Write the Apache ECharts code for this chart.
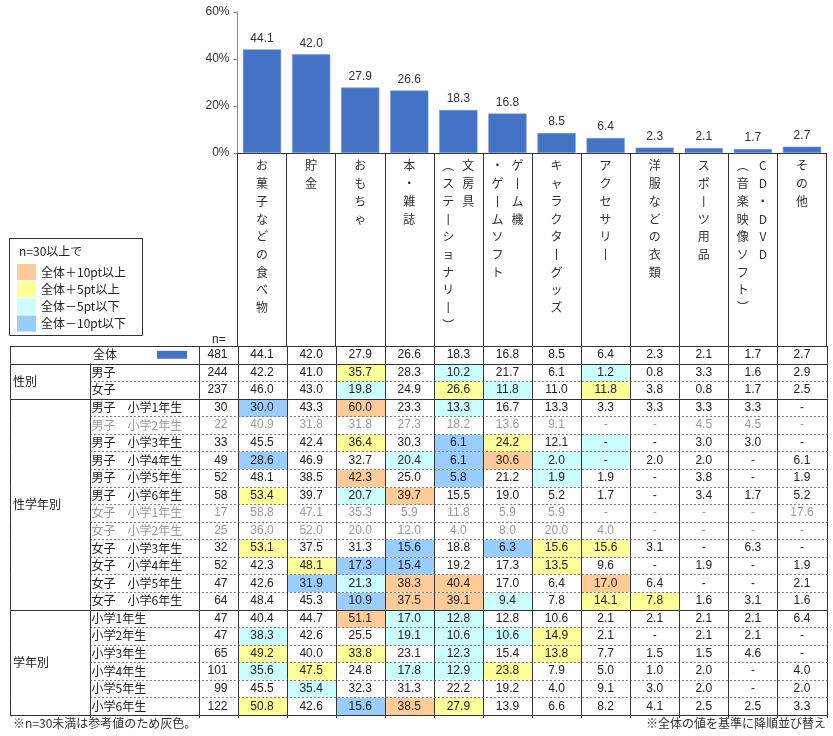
<!DOCTYPE html>
<html>
<head>
<meta charset="utf-8">
<script src="https://cdn.jsdelivr.net/npm/echarts@6.0.0/dist/echarts.min.js"></script>
<style>
  html, body { margin: 0; padding: 0; background: #fff; }
  #chart { width: 833px; height: 736px; }
</style>
</head>
<body>
<div id="chart"></div>
<script>
// 項目（\n で縦書きの2列目へ）
const categories = [
  'お菓子などの食べ物', '貯金', 'おもちゃ', '本・雑誌',
  '文房具\n（ステーショナリー）', 'ゲーム機\n・ゲームソフト',
  'キャラクターグッズ', 'アクセサリー', '洋服などの衣類', 'スポーツ用品',
  'CD・DVD\n（音楽映像ソフト）', 'その他'
]

// 全体の値（棒グラフ）
const overall = [44.1, 42.0, 27.9, 26.6, 18.3, 16.8, 8.5, 6.4, 2.3, 2.1, 1.7, 2.7]

const yTicks = [0, 20, 40, 60]

const rowLabels = [
  '全体', '男子', '女子',
  '男子　小学1年生', '男子　小学2年生', '男子　小学3年生',
  '男子　小学4年生', '男子　小学5年生', '男子　小学6年生',
  '女子　小学1年生', '女子　小学2年生', '女子　小学3年生',
  '女子　小学4年生', '女子　小学5年生', '女子　小学6年生',
  '小学1年生', '小学2年生', '小学3年生', '小学4年生', '小学5年生', '小学6年生'
]

const rowN = [481, 244, 237, 30, 22, 33, 49, 52, 58, 17, 25, 32, 52, 47, 64, 47, 47, 65, 101, 99, 122]

const groupLabels = ['性別', '性学年別', '学年別']
const groupSizes = [2, 12, 6]

// null は「-」
const tableValues = [
  overall,
  [42.2, 41.0, 35.7, 28.3, 10.2, 21.7, 6.1, 1.2, 0.8, 3.3, 1.6, 2.9],
  [46.0, 43.0, 19.8, 24.9, 26.6, 11.8, 11.0, 11.8, 3.8, 0.8, 1.7, 2.5],
  [30.0, 43.3, 60.0, 23.3, 13.3, 16.7, 13.3, 3.3, 3.3, 3.3, 3.3, null],
  [40.9, 31.8, 31.8, 27.3, 18.2, 13.6, 9.1, null, null, 4.5, 4.5, null],
  [45.5, 42.4, 36.4, 30.3, 6.1, 24.2, 12.1, null, null, 3.0, 3.0, null],
  [28.6, 46.9, 32.7, 20.4, 6.1, 30.6, 2.0, null, 2.0, 2.0, null, 6.1],
  [48.1, 38.5, 42.3, 25.0, 5.8, 21.2, 1.9, 1.9, null, 3.8, null, 1.9],
  [53.4, 39.7, 20.7, 39.7, 15.5, 19.0, 5.2, 1.7, null, 3.4, 1.7, 5.2],
  [58.8, 47.1, 35.3, 5.9, 11.8, 5.9, 5.9, null, null, null, null, 17.6],
  [36.0, 52.0, 20.0, 12.0, 4.0, 8.0, 20.0, 4.0, null, null, null, null],
  [53.1, 37.5, 31.3, 15.6, 18.8, 6.3, 15.6, 15.6, 3.1, null, 6.3, null],
  [42.3, 48.1, 17.3, 15.4, 19.2, 17.3, 13.5, 9.6, null, 1.9, null, 1.9],
  [42.6, 31.9, 21.3, 38.3, 40.4, 17.0, 6.4, 17.0, 6.4, null, null, 2.1],
  [48.4, 45.3, 10.9, 37.5, 39.1, 9.4, 7.8, 14.1, 7.8, 1.6, 3.1, 1.6],
  [40.4, 44.7, 51.1, 17.0, 12.8, 12.8, 10.6, 2.1, 2.1, 2.1, 2.1, 6.4],
  [38.3, 42.6, 25.5, 19.1, 10.6, 10.6, 14.9, 2.1, null, 2.1, 2.1, null],
  [49.2, 40.0, 33.8, 23.1, 12.3, 15.4, 13.8, 7.7, 1.5, 1.5, 4.6, null],
  [35.6, 47.5, 24.8, 17.8, 12.9, 23.8, 7.9, 5.0, 1.0, 2.0, null, 4.0],
  [45.5, 35.4, 32.3, 31.3, 22.2, 19.2, 4.0, 9.1, 3.0, 2.0, null, 2.0],
  [50.8, 42.6, 15.6, 38.5, 27.9, 13.9, 6.6, 8.2, 4.1, 2.5, 2.5, 3.3]
]

const legendLabels = ['全体＋10pt以上', '全体＋5pt以上', '全体－5pt以下', '全体－10pt以下']
const highlightColors = ['#FFCC99', '#FFFF99', '#CCFFFF', '#99CCFF']

const BAR_COLOR = '#4472C4'
const LINE = '#333333'
const DASH = '#808080'
const TEXT = '#222222'
const GRAY_TEXT = '#9a9a9a'
const FONT = '"Liberation Sans", "Noto Sans CJK JP", sans-serif'
const JP_FONT = '"Noto Sans CJK JP", sans-serif'

const TABLE_LEFT = 227.5   // grid左端から表の左端まで
const SUB_LEFT = 147.5     // grid左端から行ラベル列まで
const N_LEFT = 38.5        // grid左端から n 列まで

const verticalForm = { 'ー': '丨', '（': '︵', '）': '︶' }

// 縦書きラベル（右の列が1列目）
function toVertical(name) {
  const cols = name.split('\n').map(s => Array.from(s).map(c => verticalForm[c] || c))
  const rows = Math.max.apply(null, cols.map(c => c.length))
  const lines = []
  for (let i = 0; i < rows; i++) {
    if (cols.length === 1) {
      lines.push('{s|' + cols[0][i] + '}')
    } else {
      lines.push('{l|' + (cols[1][i] || '　') + '}{r|' + (cols[0][i] || '　') + '}')
    }
  }
  return lines.join('\n')
}

// n=30以上で全体との差により色分け
function highlightColor(r, j) {
  if (r === 0 || rowN[r] < 30) return null
  const v = tableValues[r][j] == null ? 0 : tableValues[r][j]
  const d = Math.round((v - overall[j]) * 10) / 10
  if (d >= 10) return highlightColors[0]
  if (d >= 5) return highlightColors[1]
  if (d <= -10) return highlightColors[3]
  if (d <= -5) return highlightColors[2]
  return null
}

const groupStarts = []
const groupEnds = [0]
let acc = 1
groupSizes.forEach(size => {
  groupStarts.push(acc)
  acc += size
  groupEnds.push(acc - 1)
})

function crisp(v) {
  return Math.round(v) + 0.5
}

function vline(x, y1, y2, color) {
  return { type: 'line', shape: { x1: crisp(x), y1: y1, x2: crisp(x), y2: y2 }, style: { stroke: color || LINE, lineWidth: 1 } }
}

function hline(x1, x2, y, dashed) {
  return {
    type: 'line',
    shape: { x1: x1, y1: crisp(y), x2: x2, y2: crisp(y) },
    style: { stroke: dashed ? DASH : LINE, lineWidth: 1, lineDash: dashed ? [2, 2] : null }
  }
}

function text(str, x, y, align, color, font) {
  return {
    type: 'text',
    style: {
      text: str, x: x, y: y, align: align, verticalAlign: 'middle',
      fill: color || TEXT, font: '12px ' + (font || FONT)
    }
  }
}

function renderRow(params, api) {
  const r = api.value(1)
  const cs = params.coordSys
  const size = api.size([1, 1])
  const w = size[0]
  const h = size[1]
  const cy = api.coord([0, r])[1]
  const top = cy - h / 2
  const bottom = cy + h / 2
  const x0 = cs.x
  const x1 = cs.x + cs.width
  const left = x0 - TABLE_LEFT
  const subLeft = x0 - SUB_LEFT
  const nLeft = x0 - N_LEFT
  const last = r === rowLabels.length - 1
  const gray = rowN[r] < 30
  const rects = []
  const lines = []
  const texts = []

  for (let j = 0; j < categories.length; j++) {
    const cx = api.coord([j, r])[0]
    const c = highlightColor(r, j)
    if (c) {
      rects.push({
        type: 'rect',
        shape: { x: Math.round(cx - w / 2) + 1, y: Math.round(top) + 1, width: Math.round(w) - 1, height: Math.round(h) - 1 },
        style: { fill: c }
      })
    }
    const v = tableValues[r][j]
    texts.push(text(v == null ? '-' : v.toFixed(1), cx, cy, 'center', gray ? GRAY_TEXT : TEXT))
    lines.push(vline(cx - w / 2, top, bottom + (last ? 3 : 0)))
  }
  lines.push(vline(x1, top, bottom + (last ? 3 : 0)))
  lines.push(vline(left, top, bottom))
  lines.push(vline(nLeft, top, bottom + (last ? 3 : 0)))
  if (r > 0) lines.push(vline(subLeft, top, bottom + (last ? 3 : 0)))

  if (r === 0) lines.push(hline(left, x1 + 1, top, false))
  if (groupEnds.indexOf(r) >= 0) {
    lines.push(hline(left, x1 + 1, bottom, false))
  } else {
    lines.push(hline(subLeft, x1 + 1, bottom, true))
  }

  if (r === 0) {
    texts.push(text(rowLabels[r], subLeft + 3, cy, 'left', TEXT, JP_FONT))
    rects.push({ type: 'rect', shape: { x: x0 - 80.5, y: cy - 4, width: 30, height: 8 }, style: { fill: BAR_COLOR } })
  } else {
    texts.push(text(rowLabels[r], subLeft + 1.5, cy, 'left', gray ? GRAY_TEXT : TEXT, JP_FONT))
  }
  texts.push(text(String(rowN[r]), x0 - 10, cy, 'right', gray ? GRAY_TEXT : TEXT))

  const g = groupStarts.indexOf(r)
  if (g >= 0) {
    texts.push(text(groupLabels[g], left + 3, top + groupSizes[g] * h / 2, 'left', TEXT, JP_FONT))
  }

  return { type: 'group', children: rects.concat(lines, texts) }
}

const legendGraphics = [
  { type: 'rect', shape: { x: 9.5, y: 238.5, width: 133, height: 97 }, style: { fill: '#fff', stroke: LINE, lineWidth: 1 } },
  { type: 'text', style: { text: 'n=30以上で', x: 19, y: 251, verticalAlign: 'middle', fill: TEXT, font: '12px ' + JP_FONT } }
]
legendLabels.forEach((label, i) => {
  const y = 264 + i * 17.2
  legendGraphics.push({ type: 'rect', shape: { x: 17, y: y, width: 19, height: 16 }, style: { fill: highlightColors[i] } })
  legendGraphics.push({ type: 'text', style: { text: label, x: 41, y: y + 8, verticalAlign: 'middle', fill: TEXT, font: '12px ' + JP_FONT } })
})

const chart = echarts.init(document.getElementById('chart'), null, { renderer: 'canvas' })

const option = {
  animation: false,
  backgroundColor: '#ffffff',
  textStyle: { fontFamily: FONT },
  grid: [
    { left: 237.5, right: 6.5, top: 12, height: 141, outerBoundsMode: 'none', containLabel: false },
    { left: 237.5, right: 6.5, top: 346, height: 369, outerBoundsMode: 'none', containLabel: false }
  ],
  xAxis: [
    {
      type: 'category',
      gridIndex: 0,
      data: categories,
      axisLine: { show: true, lineStyle: { color: LINE, width: 1 } },
      axisTick: { show: true, length: 193, interval: 0, alignWithLabel: false, lineStyle: { color: LINE, width: 1 } },
      axisLabel: {
        interval: 0,
        margin: 4,
        color: '#333',
        formatter: v => toVertical(v),
        rich: {
          s: { fontSize: 12, fontFamily: JP_FONT, lineHeight: 17.7, width: 20, align: 'center', color: '#333' },
          l: { fontSize: 12, fontFamily: JP_FONT, lineHeight: 17.7, width: 20, align: 'center', color: '#333' },
          r: { fontSize: 12, fontFamily: JP_FONT, lineHeight: 17.7, width: 20, align: 'center', color: '#333' }
        }
      },
      splitLine: { show: false }
    },
    {
      type: 'category',
      gridIndex: 1,
      data: categories,
      axisLine: { show: false },
      axisTick: { show: false },
      axisLabel: { show: false },
      splitLine: { show: false }
    }
  ],
  yAxis: [
    {
      type: 'value',
      gridIndex: 0,
      min: yTicks[0],
      max: yTicks[yTicks.length - 1],
      interval: yTicks[1] - yTicks[0],
      axisLine: { show: true, lineStyle: { color: '#888', width: 1 } },
      axisTick: { show: true, length: 4, lineStyle: { color: '#888' } },
      axisLabel: { formatter: '{value}%', color: '#333', fontSize: 12, margin: 8, fontFamily: FONT },
      splitLine: { show: false }
    },
    {
      type: 'category',
      gridIndex: 1,
      inverse: true,
      data: rowLabels,
      axisLine: { show: false },
      axisTick: { show: false },
      axisLabel: { show: false },
      splitLine: { show: false }
    }
  ],
  series: [
    {
      type: 'bar',
      xAxisIndex: 0,
      yAxisIndex: 0,
      data: overall,
      barCategoryGap: '22%',
      itemStyle: { color: BAR_COLOR, borderColor: '#7F9FD9', borderWidth: 0.6 },
      label: {
        show: true,
        position: 'top',
        distance: 5,
        color: '#333',
        fontSize: 12,
        fontFamily: FONT,
        formatter: p => p.value.toFixed(1)
      }
    },
    {
      type: 'custom',
      xAxisIndex: 1,
      yAxisIndex: 1,
      clip: false,
      renderItem: renderRow,
      encode: { x: 0, y: 1 },
      data: rowLabels.map((_, i) => [0, i])
    }
  ],
  graphic: legendGraphics.concat([
    { type: 'text', style: { text: 'n=', x: 212, y: 340, verticalAlign: 'middle', fill: TEXT, font: '12px ' + FONT } },
    { type: 'text', style: { text: '※n=30未満は参考値のため灰色。', x: 13, y: 723, verticalAlign: 'middle', fill: '#333', font: '12px ' + JP_FONT } },
    { type: 'text', style: { text: '※全体の値を基準に降順並び替え', x: 826, y: 723, align: 'right', verticalAlign: 'middle', fill: '#333', font: '12px ' + JP_FONT } }
  ])
}

chart.setOption(option)
</script>
</body>
</html>
